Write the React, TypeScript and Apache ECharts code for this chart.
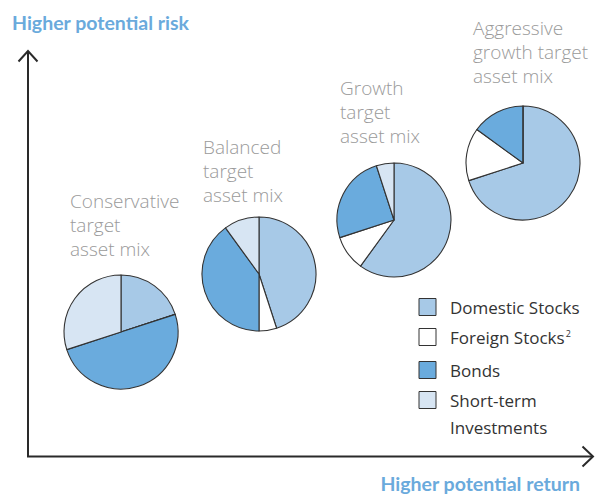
import React, { useEffect, useRef } from "react";
import * as echarts from "echarts";

const categories = ["Domestic Stocks", "Foreign Stocks", "Bonds", "Short-term Investments"];
const legendLines = [["Domestic Stocks"], ["Foreign Stocks"], ["Bonds"], ["Short-term", "Investments"]];
const legendNote = ["", "2", "", ""];
const mixNames = ["Conservative", "Balanced", "Growth", "Aggressive"];
const mixLabels = [
  ["Conservative", "target", "asset mix"],
  ["Balanced", "target", "asset mix"],
  ["Growth", "target", "asset mix"],
  ["Aggressive", "growth target", "asset mix"],
];
const conservative = [20, 0, 50, 30];
const balanced = [45, 5, 40, 10];
const growth = [60, 10, 25, 5];
const aggressive = [70, 15, 15, 0];
const mixes = [conservative, balanced, growth, aggressive];

const colors = ["#a7c9e7", "#ffffff", "#6aabdd", "#d7e5f3"];
const centers = [[121, 332], [259, 274], [394, 220], [523, 163]];
const labelPos = [[70, 201], [203, 147], [340, 88], [473, 28]];
const blue = "#6aaadc";
const gray = "#9a9a9a";
const labelFont = "300 19px 'Open Sans', sans-serif";
const legendFont = "400 17px 'Open Sans', sans-serif";
const titleFont = "bold 19.5px Lato, sans-serif";

function measure(text: string, font: string) {
  const c = document.createElement("canvas").getContext("2d")!;
  c.font = font;
  return c.measureText(text).width;
}

export default function App() {
  const ref = useRef<HTMLDivElement>(null);
  useEffect(() => {
    document.body.style.margin = "0";
    const chart = echarts.init(ref.current!, null, { renderer: "svg" });
    const series = mixes.map((vals, i) => ({
      type: "pie",
      name: mixNames[i],
      center: centers[i],
      radius: 57,
      startAngle: 90,
      clockwise: true,
      label: { show: false },
      labelLine: { show: false },
      emphasis: { disabled: true },
      silent: true,
      itemStyle: { borderColor: "#333", borderWidth: 1.1 },
      data: vals.map((v, j) => ({ name: categories[j], value: v, itemStyle: { color: colors[j] } })),
    }));

    const graphic: any[] = [];
    graphic.push({ type: "line", shape: { x1: 28, y1: 51, x2: 28, y2: 457 }, style: { stroke: "#2a2a2a", lineWidth: 2 } });
    graphic.push({ type: "line", shape: { x1: 27, y1: 456.5, x2: 592, y2: 456.5 }, style: { stroke: "#2a2a2a", lineWidth: 2 } });
    graphic.push({ type: "polyline", shape: { points: [[18.5, 61.5], [28, 51], [37.5, 61.5]] }, style: { stroke: "#2a2a2a", lineWidth: 2, fill: null } });
    graphic.push({ type: "polyline", shape: { points: [[582.5, 446.5], [593, 456.5], [582.5, 466.5]] }, style: { stroke: "#2a2a2a", lineWidth: 2, fill: null } });
    graphic.push({ type: "text", x: 12, y: 22, style: { text: "Higher potential risk", fill: blue, font: titleFont, textVerticalAlign: "middle" } });
    graphic.push({ type: "text", x: 580, y: 483, style: { text: "Higher potential return", fill: blue, font: titleFont, textAlign: "right", textVerticalAlign: "middle" } });
    mixLabels.forEach((lines, i) => {
      lines.forEach((t, k) => {
        graphic.push({ type: "text", x: labelPos[i][0], y: labelPos[i][1] + k * 24, style: { text: t, fill: gray, font: labelFont, textVerticalAlign: "middle" } });
      });
    });
    const rowsY = [307, 337, 370, 400];
    legendLines.forEach((lines, i) => {
      graphic.push({ type: "rect", shape: { x: 419, y: rowsY[i] - 8.5, width: 17, height: 17 }, style: { fill: colors[i], stroke: "#333", lineWidth: 1 } });
      lines.forEach((t, k) => {
        graphic.push({ type: "text", x: 450, y: rowsY[i] + k * 27, style: { text: t, fill: "#333", font: legendFont, textVerticalAlign: "middle" } });
      });
      if (legendNote[i]) {
        const w = measure(lines[0], legendFont);
        graphic.push({ type: "text", x: 450 + w + 1, y: rowsY[i] - 4, style: { text: legendNote[i], fill: "#333", font: "400 9px 'Open Sans', sans-serif", textVerticalAlign: "middle" } });
      }
    });

    chart.setOption({ animation: false, backgroundColor: "#fff", series, graphic });
    return () => chart.dispose();
  }, []);
  return <div ref={ref} style={{ width: 597, height: 495 }} />;
}
